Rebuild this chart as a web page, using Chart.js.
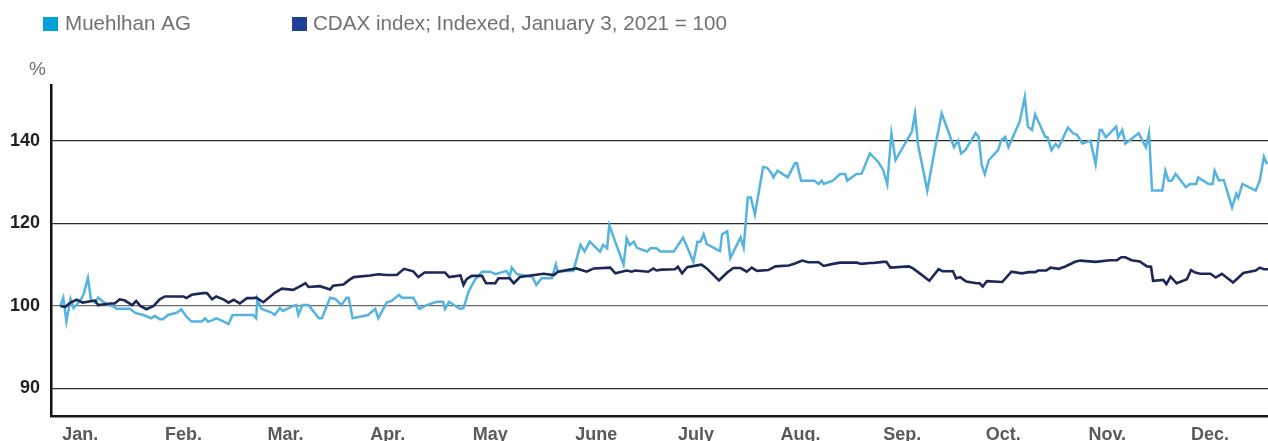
<!DOCTYPE html>
<html>
<head>
<meta charset="utf-8">
<title>Muehlhan AG vs CDAX 2021</title>
<script src="https://cdn.jsdelivr.net/npm/chart.js"></script>
<style>
  html, body { margin: 0; padding: 0; background: #fff; }
  #wrap { width: 1268px; height: 441px; overflow: hidden; }
</style>
</head>
<body>
<div id="wrap"><canvas id="chart" width="1268" height="441"></canvas></div>
<script>
  const FONT = '"Liberation Sans", Arial, Helvetica, sans-serif';

  const months = ['Jan.', 'Feb.', 'Mar.', 'Apr.', 'May', 'June', 'July', 'Aug.', 'Sep.', 'Oct.', 'Nov.', 'Dec.'];
  // the printed axis has equal gaps, the lowest line is labelled 90
  const yTickValues = [80, 100, 120, 140];
  const yTickLabels = ['90', '100', '120', '140'];
  const seriesNames = ['Muehlhan AG', 'CDAX index; Indexed, January 3, 2021 = 100'];
  const lineColors = ['#55b3df', '#1d2857'];
  const legendColors = ['#00a3d8', '#1f3f98'];

  // x = months since 1 Jan (each month drawn the same width), y = index value in %
  const muehlhanPos = [0.09,0.12,0.15,0.19,0.22,0.25,0.29,0.32,0.36,0.39,
    0.43,0.46,0.51,0.56,0.60,0.64,0.77,0.82,0.90,0.98,
    1.01,1.06,1.09,1.14,1.23,1.27,1.32,1.37,1.47,1.50,
    1.53,1.57,1.61,1.66,1.73,1.77,1.97,2.00,2.01,2.05,
    2.15,2.18,2.23,2.26,2.36,2.39,2.41,2.45,2.51,2.61,
    2.64,2.72,2.77,2.83,2.88,2.90,2.94,3.09,3.16,3.19,
    3.27,3.32,3.39,3.42,3.53,3.59,3.66,3.76,3.82,3.84,
    3.88,3.94,3.99,4.02,4.07,4.13,4.20,4.28,4.33,4.44,
    4.47,4.49,4.54,4.69,4.73,4.78,4.88,4.92,4.94,5.01,
    5.09,5.16,5.20,5.25,5.35,5.38,5.42,5.44,5.58,5.61,
    5.64,5.68,5.71,5.81,5.84,5.90,5.94,6.07,6.16,6.26,
    6.30,6.33,6.36,6.39,6.52,6.54,6.59,6.62,6.72,6.75,
    6.79,6.82,6.86,6.94,6.98,7.02,7.04,7.08,7.18,7.25,
    7.27,7.31,7.44,7.48,7.51,7.53,7.62,7.69,7.74,7.76,
    7.85,7.90,7.98,8.06,8.11,8.15,8.19,8.23,8.39,8.42,
    8.45,8.54,8.62,8.68,8.80,8.84,8.87,8.91,9.01,9.04,
    9.07,9.10,9.14,9.23,9.26,9.30,9.33,9.44,9.49,9.52,
    9.56,9.59,9.69,9.71,9.75,9.79,9.82,9.91,9.96,10.00,
    10.05,10.13,10.18,10.22,10.24,10.28,10.38,10.40,10.44,10.47,
    10.60,10.67,10.70,10.73,10.83,10.86,10.89,10.92,10.96,11.06,
    11.10,11.16,11.18,11.28,11.32,11.34,11.38,11.43,11.51,11.55,
    11.57,11.61,11.74,11.78,11.82,11.85];
  const muehlhanVal = [100,102,96.2,101.7,99.5,100.3,101.5,103,106.8,101.5,
    100.8,102,101,100.2,100,99.3,99.3,98.3,97.8,97,
    97.6,96.8,96.8,97.8,98.4,99.2,97.4,96.2,96.2,97,
    96.2,96.5,97,96.5,95.6,97.8,97.8,97,101.7,99.3,
    98.4,97.8,99.5,98.8,100,100.2,97.8,100.2,100.2,97,
    97,102,101.7,100.2,102,102,97,97.8,99.3,97,
    100.8,101.2,102.7,102,102,99.3,100.2,101,101,99.3,
    101,100,99.3,99.5,103.5,106.3,108.3,108.3,107.7,108.5,
    107.1,109.3,107.7,107.1,105.1,106.7,106.7,110.1,108.3,108.5,
    108.5,114.8,113.2,115.6,113.2,114.8,114,119.6,110,116.4,
    114.8,115.6,114.1,113.2,114,114,113.2,113.2,116.6,110.7,
    115.6,115.6,117.4,115,113.3,117.4,118.1,111.6,116.6,114.1,
    126.3,126.3,122.2,133.7,133.5,132.2,131.2,132.8,131.2,134.6,
    134.6,130.4,130.4,129.6,130.4,129.6,130.4,132,132,130.4,
    132,132.1,137,135,133,129.5,141.9,135.4,142.3,146.7,
    139,128,139,146.7,138.5,140.1,137,137.8,141.9,141,
    134.2,132,135.4,137.8,140.2,141,138.5,144.7,150.7,143.5,
    142.7,146.5,141,141,137.8,139.3,138.5,143.3,141.9,141.5,
    139.4,140.1,134.4,142.7,142.7,140.9,143.5,140.9,142.7,139.4,
    141.9,138.5,141.9,128,128,132.8,130.4,130.4,132,128.8,
    129.6,129.6,131.2,129.6,129.6,132.8,130.5,130.5,123.9,127.2,
    126.2,129.6,128,130.4,136.2,134.4];

  const cdaxPos = [0.09,0.14,0.19,0.25,0.31,0.40,0.43,0.46,0.58,0.62,
    0.67,0.72,0.79,0.83,0.87,0.93,1.00,1.06,1.11,1.29,
    1.32,1.37,1.48,1.52,1.57,1.61,1.68,1.73,1.78,1.84,
    1.91,1.97,2.00,2.07,2.18,2.25,2.36,2.43,2.48,2.51,
    2.62,2.72,2.75,2.85,2.90,2.95,3.11,3.19,3.27,3.37,
    3.44,3.53,3.58,3.64,3.84,3.88,3.99,4.02,4.05,4.10,
    4.20,4.24,4.33,4.36,4.47,4.51,4.57,4.80,4.90,4.94,
    5.12,5.22,5.29,5.45,5.50,5.61,5.66,5.69,5.82,5.87,
    5.90,5.95,6.08,6.11,6.15,6.20,6.31,6.34,6.39,6.51,
    6.59,6.65,6.72,6.78,6.83,6.88,6.99,7.06,7.19,7.25,
    7.32,7.38,7.48,7.53,7.62,7.69,7.77,7.85,7.90,7.98,
    8.01,8.11,8.14,8.18,8.36,8.40,8.45,8.56,8.65,8.69,
    8.79,8.82,8.86,8.92,9.02,9.05,9.08,9.12,9.27,9.36,
    9.46,9.53,9.59,9.62,9.70,9.74,9.82,9.88,9.98,10.03,
    10.18,10.32,10.39,10.43,10.47,10.53,10.61,10.68,10.72,10.74,
    10.84,10.87,10.91,10.97,11.07,11.11,11.15,11.20,11.30,11.35,
    11.41,11.52,11.62,11.74,11.78,11.82,11.86];
  const cdaxVal = [100,99.8,100.8,101.5,100.8,101.2,101.3,100.2,100.6,100.6,
    101.6,101.3,100.2,101.2,100,99.2,100,101.6,102.3,102.3,
    101.9,102.7,103.1,103.1,101.6,102.3,101.6,100.8,101.5,100.6,
    101.9,101.9,102,100.9,103.2,104.2,103.9,104.8,105.5,104.6,
    104.8,104,104.9,105.2,106.2,107,107.4,107.7,107.5,107.5,
    109,108.4,107,108.1,108.1,107,107.4,105.1,106.5,107.3,
    107.3,105.5,105.5,106.7,106.7,105.5,107,107.8,107.5,108.3,
    109.1,108.3,109.1,109.3,107.9,108.6,108.3,108.6,108.3,109.1,
    108.6,108.8,108.9,109.5,107.9,109.4,109.9,110,109.1,106.2,
    108.1,109.2,109.2,108.3,109.3,108.5,108.7,109.6,109.8,110.3,
    111,110.6,110.6,109.7,110.2,110.5,110.5,110.5,110.2,110.4,
    110.4,110.7,110.7,109.3,109.6,109.1,108.2,106.1,108.9,108.4,
    108.4,106.7,107,105.9,105.5,105.5,104.7,106,105.8,108.3,
    107.9,108.2,108.2,108.6,108.6,109.3,109,109.5,110.7,111,
    110.7,111.1,111.1,111.8,111.8,111.1,110.8,109.6,109.5,106.1,
    106.3,105.3,107.1,105.5,106.5,108.7,108.1,107.8,107.8,106.9,
    107.8,105.7,108,108.6,109.3,108.9,108.9];

  const toPoints = (xs, ys) => xs.map((x, i) => ({ x: x, y: ys[i] }));

  // legend and the "%" unit, drawn on the canvas at fixed spots
  const legendSpots = [{ box: 43, text: 65 }, { box: 292, text: 313 }];
  const extrasPlugin = {
    id: 'extras',
    afterDraw(chart) {
      const ctx = chart.ctx;
      ctx.save();
      ctx.textBaseline = 'alphabetic';
      ctx.font = '20.6px ' + FONT;
      legendSpots.forEach((s, i) => {
        ctx.fillStyle = legendColors[i];
        ctx.fillRect(s.box, 17, 15, 14);
        ctx.fillStyle = '#707174';
        ctx.fillText(seriesNames[i], s.text, 30);
      });
      ctx.font = '19px ' + FONT;
      ctx.fillText('%', 29, 75);
      ctx.restore();
    }
  };

  new Chart(document.getElementById('chart'), {
    type: 'line',
    data: {
      datasets: [
        {
          label: seriesNames[1],
          data: toPoints(cdaxPos, cdaxVal),
          borderColor: lineColors[1],
          borderWidth: 2.6,
          pointRadius: 0,
          tension: 0,
          order: 0
        },
        {
          label: seriesNames[0],
          data: toPoints(muehlhanPos, muehlhanVal),
          borderColor: lineColors[0],
          borderWidth: 2.5,
          pointRadius: 0,
          tension: 0,
          order: 1
        }
      ]
    },
    options: {
      responsive: false,
      animation: false,
      layout: { padding: { top: 85, left: 0, right: 0, bottom: 0 } },
      plugins: { legend: { display: false }, tooltip: { enabled: false } },
      scales: {
        x: {
          type: 'linear',
          min: 0,
          max: 11.86,
          afterBuildTicks: s => { s.ticks = months.map((m, i) => ({ value: i + 0.11 })); },
          afterFit: s => { s.height = 25; },
          grid: { display: false },
          border: { display: true, color: '#1a1a1a', width: 2.5 },
          ticks: {
            align: 'start',
            padding: 0,
            autoSkip: false,
            maxRotation: 0,
            color: '#58595b',
            font: { family: FONT, size: 18, weight: 'bold' },
            callback: (v, i) => months[i]
          }
        },
        y: {
          min: 73.3,
          max: 153.6,
          afterBuildTicks: s => { s.ticks = yTickValues.map(v => ({ value: v })); },
          afterFit: s => { s.width = 51; },
          grid: {
            color: c => (c.tick && c.tick.value === 100) ? '#6b6b6b' : '#2b2b2b',
            lineWidth: 1.2,
            drawTicks: false
          },
          border: { display: true, color: '#111', width: 2.5 },
          ticks: {
            padding: 11,
            color: '#231f20',
            font: { family: FONT, size: 18, weight: 'bold' },
            callback: (v, i) => yTickLabels[i]
          }
        }
      }
    },
    plugins: [extrasPlugin]
  });
</script>
</body>
</html>
